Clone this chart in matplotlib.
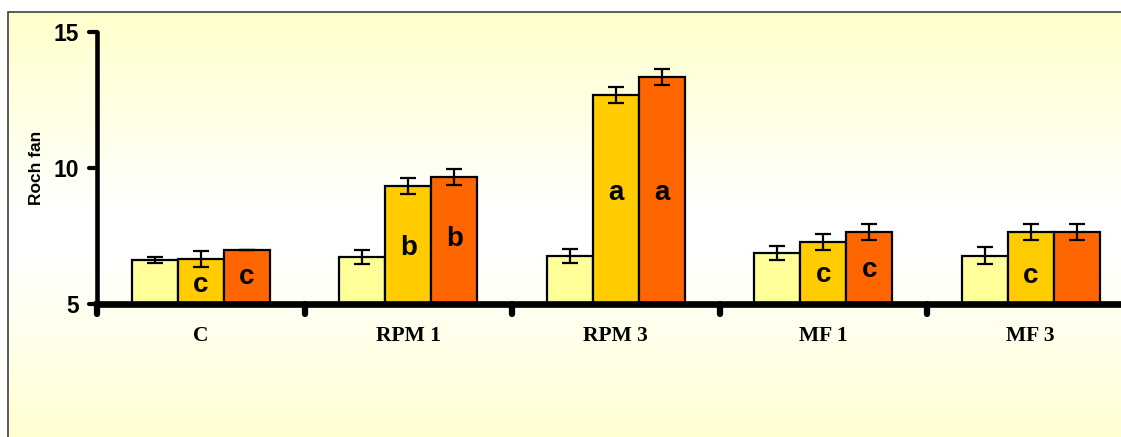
import numpy as np
import matplotlib.pyplot as plt
from matplotlib.colors import LinearSegmentedColormap
from matplotlib.patches import Rectangle
from matplotlib.markers import MarkerStyle, TICKDOWN, TICKLEFT

groups = ['C', 'RPM 1', 'RPM 3', 'MF 1', 'MF 3']
light = [6.62, 6.73, 6.76, 6.87, 6.78]
light_err = [0.1, 0.27, 0.27, 0.26, 0.3]
mid = [6.65, 9.34, 12.68, 7.29, 7.65]
mid_err = [0.3, 0.3, 0.3, 0.3, 0.3]
dark = [7.0, 9.67, 13.35, 7.65, 7.65]
dark_err = [0.0, 0.3, 0.3, 0.3, 0.3]
mid_letters = ['c', 'b', 'a', 'c', 'c']
mid_letter_y = [5.7, 7.05, 9.08, 6.07, 6.03]
dark_letters = ['c', 'b', 'a', 'c', '']
dark_letter_y = [6.0, 7.38, 9.08, 6.25, 6.0]

fig = plt.figure(figsize=(11.21, 4.37), dpi=100)

# background gradient (yellow - white - yellow)
bg = fig.add_axes([0, 0, 1, 1], zorder=-10)
cmap = LinearSegmentedColormap.from_list('bgy', [(0, '#FFFFCC'), (0.45, '#FFFFFF'),
                                                 (0.55, '#FFFFFF'), (1, '#FFFFCC')])
grad = np.linspace(0, 1, 256).reshape(-1, 1)
bg.add_patch(Rectangle((0, 0), 1, 1, color='white', zorder=-1))
bg.imshow(grad, aspect='auto', cmap=cmap, extent=[8 / 1121, 1.05, -0.05, 1 - 12 / 437],
          origin='upper', zorder=1)
bg.add_patch(Rectangle((8 / 1121, -0.05), 1.05, 1 - 12 / 437 + 0.05, fill=False,
                       edgecolor='#404040', linewidth=1.2, zorder=2))
bg.set_xlim(0, 1)
bg.set_ylim(0, 1)
bg.axis('off')

ax = fig.add_axes([97 / 1121, 133 / 437, 1037.5 / 1121, 272 / 437])
ax.patch.set_alpha(0)

x = np.arange(len(groups))
w = 0.222
kw = dict(width=w, edgecolor='black', linewidth=1.6, zorder=2)
ekw = dict(elinewidth=1.6, capthick=1.6)
ax.bar(x - w, np.array(light) - 5, bottom=5, color='#FFFF99', yerr=light_err,
       capsize=6, error_kw=ekw, **kw)
ax.bar(x, np.array(mid) - 5, bottom=5, color='#FFCC00', yerr=mid_err,
       capsize=6, error_kw=ekw, **kw)
ax.bar(x + w, np.array(dark) - 5, bottom=5, color='#FF6600', yerr=dark_err,
       capsize=6, error_kw=ekw, **kw)

for i in range(len(groups)):
    if mid_letters[i]:
        ax.text(x[i], mid_letter_y[i], mid_letters[i], ha='center', va='center',
                fontsize=20, fontweight='bold', family='Liberation Sans', zorder=3)
    if dark_letters[i]:
        ax.text(x[i] + w, dark_letter_y[i], dark_letters[i], ha='center', va='center',
                fontsize=20, fontweight='bold', family='Liberation Sans', zorder=3)

ax.set_xlim(-0.5, len(groups) - 0.5)
ax.set_ylim(5, 15)
ax.set_yticks([5, 10, 15])
ax.set_yticklabels(['5', '10', '15'], fontsize=16.5, fontweight='bold', family='Liberation Sans')
ax.set_xticks(np.arange(-0.5, len(groups), 1.0))
ax.set_xticklabels([])
ax.set_xticks(x, minor=True)
ax.set_xticklabels(groups, minor=True, fontsize=15.5, fontweight='bold', family='Liberation Serif')
ax.tick_params(axis='x', which='minor', length=0, pad=16)
ax.tick_params(axis='x', which='major', length=7, width=4.5, direction='out')
ax.tick_params(axis='y', length=6, width=3, direction='out', pad=7)
ax.set_ylabel('Roch fan', fontsize=12.5, fontweight='bold', family='Liberation Sans', labelpad=7)

for s in ['top', 'right']:
    ax.spines[s].set_visible(False)
ax.spines['left'].set_linewidth(3.3)
ax.spines['bottom'].set_linewidth(4.8)
ax.spines['bottom'].set_zorder(4)
ax.spines['left'].set_capstyle('round')

# round-capped tick marks
for t in ax.xaxis.get_major_ticks():
    t.tick1line.set_marker(MarkerStyle(TICKDOWN, capstyle='round'))
for t in ax.yaxis.get_major_ticks():
    t.tick1line.set_marker(MarkerStyle(TICKLEFT, capstyle='round'))

fig.savefig('out.png', dpi=100)
